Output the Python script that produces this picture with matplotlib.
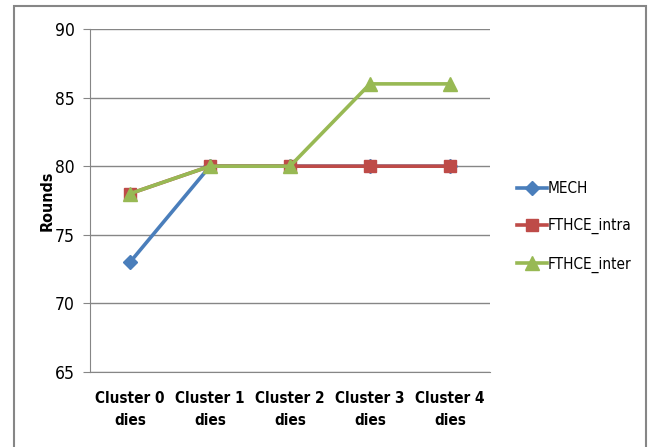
import matplotlib
matplotlib.use("Agg")
import matplotlib.pyplot as plt
from matplotlib.patches import Rectangle

plt.rcParams["font.family"] = ["DejaVu Sans"]
plt.rcParams["font.stretch"] = "condensed"

categories = ["Cluster 0\ndies", "Cluster 1\ndies", "Cluster 2\ndies",
              "Cluster 3\ndies", "Cluster 4\ndies"]
mech = [73, 80, 80, 80, 80]
fthce_intra = [78, 80, 80, 80, 80]
fthce_inter = [78, 80, 80, 86, 86]

W, H = 652, 447
fig = plt.figure(figsize=(W / 100, H / 100), dpi=100)
ax = fig.add_axes([90 / W, 1 - 372 / H, 400 / W, 343 / H])

x = range(len(categories))
ax.plot(x, mech, color="#4A7EBB", lw=2.6, marker="D", ms=7, label="MECH")
ax.plot(x, fthce_intra, color="#BE4B48", lw=2.6, marker="s", ms=9,
        label="FTHCE_intra")
ax.plot(x, fthce_inter, color="#98B954", lw=2.6, marker="^", ms=10,
        label="FTHCE_inter")

ax.set_xlim(-0.5, len(categories) - 0.5)
ax.set_ylim(65, 90)
ax.set_yticks(range(65, 91, 5))
ax.set_xticks(list(x))
ax.set_xticklabels(categories, fontsize=11, fontweight="bold", linespacing=1.55)
ax.tick_params(axis="x", length=0, pad=14)
ax.tick_params(axis="y", length=5, color="#868686", labelsize=12.5, pad=6)
ax.yaxis.grid(True, color="#868686", lw=1)
ax.set_axisbelow(True)
for s in ["top", "right"]:
    ax.spines[s].set_visible(False)
for s in ["left", "bottom"]:
    ax.spines[s].set_color("#868686")
ax.set_ylabel("Rounds", fontsize=11.5, fontweight="bold", labelpad=0)

ax.legend(loc="center left", bbox_to_anchor=(503 / W, 1 - 227 / H),
          bbox_transform=fig.transFigure, frameon=False, fontsize=11,
          labelspacing=1.45, handlelength=2.0, handletextpad=0.05)

fig.patches.append(Rectangle((14 / W, -0.01), 632 / W, 1.01 - 6 / H,
                             transform=fig.transFigure, fill=False,
                             edgecolor="#868686", lw=1.5))

fig.savefig("out.png", dpi=100)
